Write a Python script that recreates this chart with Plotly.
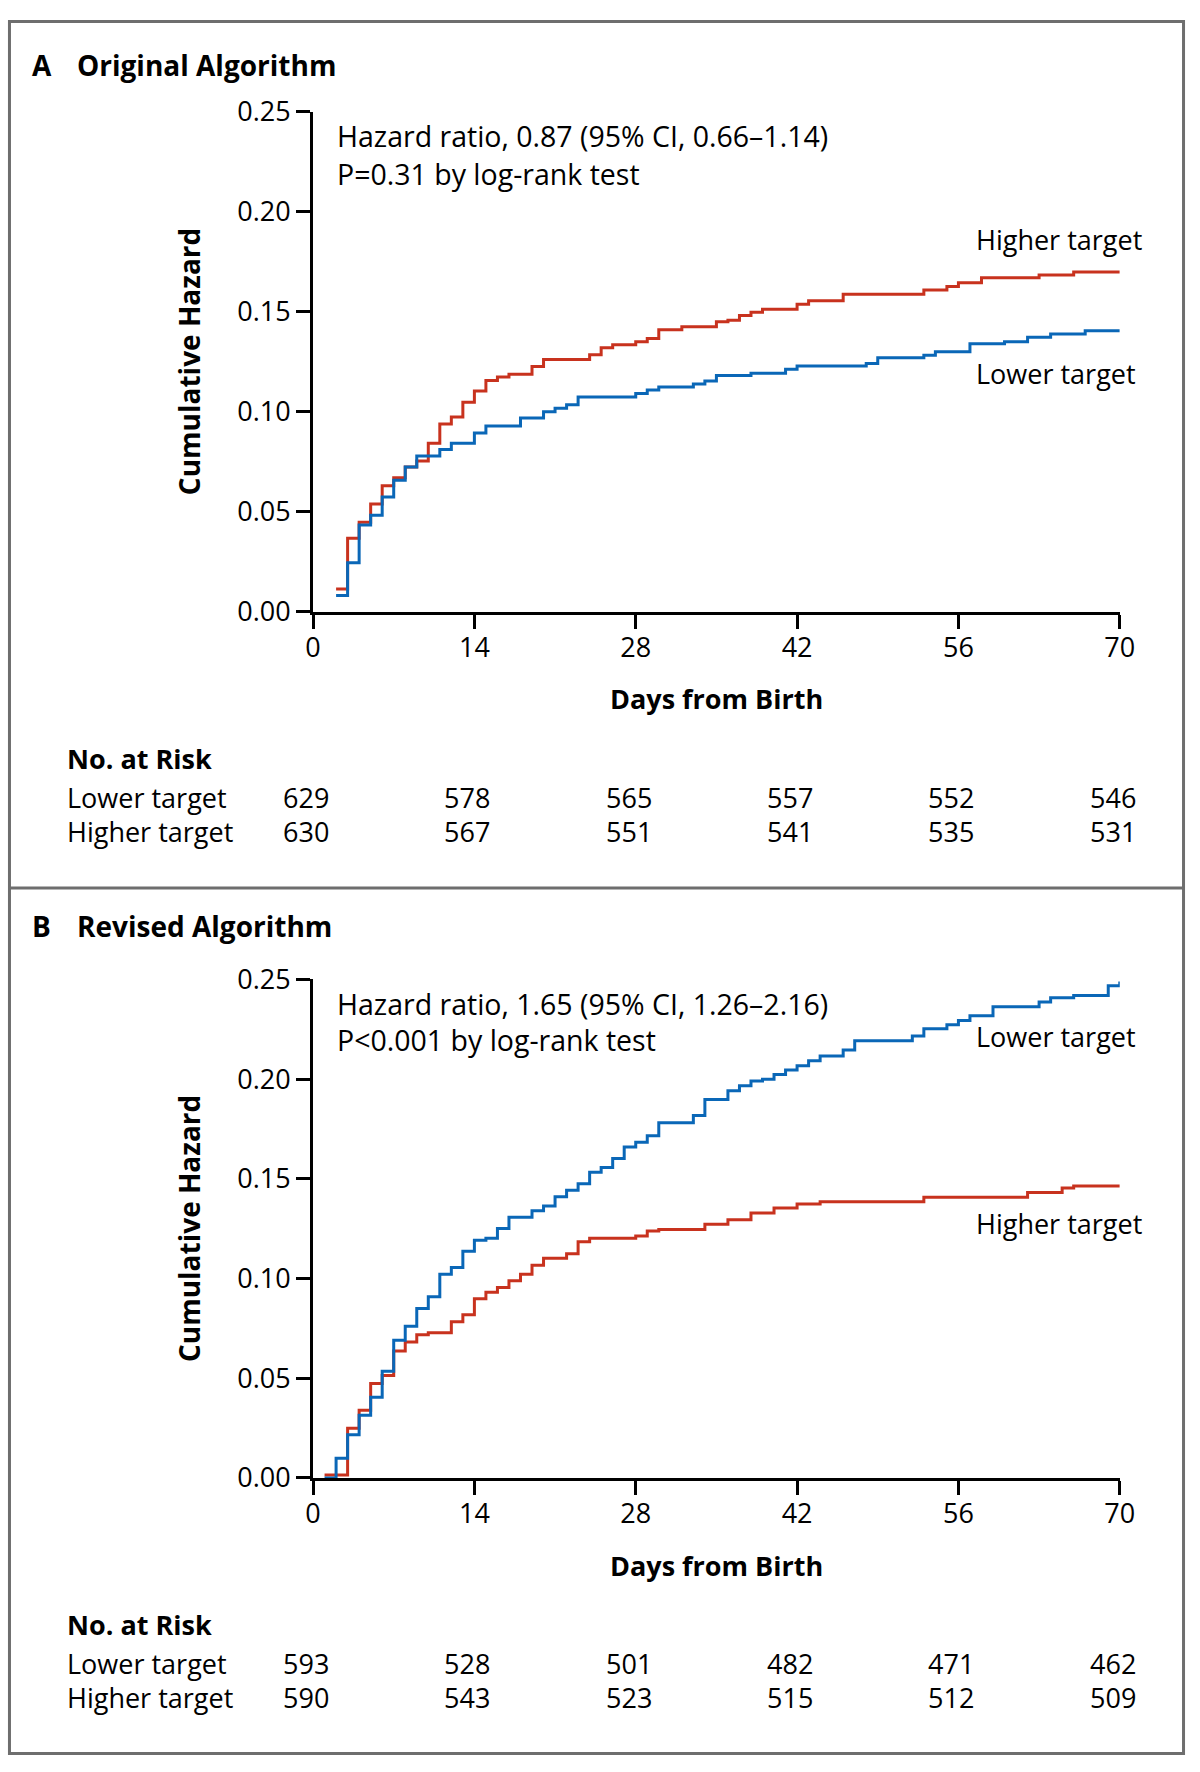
import plotly.graph_objects as go

# ---------------- data ----------------
# Panel A - Original Algorithm (step functions: day of step, cumulative hazard after step)
a_higher_days = [2, 3, 4, 5, 6, 7, 8, 9, 10, 11, 12, 13, 14, 15, 16, 17, 19, 20, 24, 25, 26, 28, 29, 30,
                 32, 35, 36, 37, 38, 39, 42, 43, 46, 53, 55, 56, 58, 63, 66, 70]
a_higher_vals = [0.0114, 0.0368, 0.0447, 0.0539, 0.0630, 0.0670, 0.0723, 0.0753, 0.0842, 0.0939, 0.0974,
                 0.1047, 0.1103, 0.1156, 0.1173, 0.1187, 0.1226, 0.1261, 0.1284, 0.1319, 0.1335, 0.1350,
                 0.1366, 0.1410, 0.1424, 0.1449, 0.1457, 0.1481, 0.1497, 0.1512, 0.1537, 0.1554, 0.1587,
                 0.1608, 0.1626, 0.1644, 0.1669, 0.1683, 0.1698, 0.1698]
a_lower_days = [2, 3, 4, 5, 6, 7, 8, 9, 11, 12, 14, 15, 18, 20, 21, 22, 23, 28, 29, 30, 33, 34, 35, 38,
                41, 42, 48, 49, 53, 54, 57, 60, 62, 64, 67, 70]
a_lower_vals = [0.0081, 0.0245, 0.0434, 0.0483, 0.0574, 0.0657, 0.0723, 0.0779, 0.0811, 0.0842, 0.0893,
                0.0928, 0.0968, 0.1000, 0.1017, 0.1035, 0.1073, 0.1091, 0.1109, 0.1123, 0.1138, 0.1154,
                0.1181, 0.1192, 0.1212, 0.1228, 0.1241, 0.1269, 0.1282, 0.1300, 0.1339, 0.1349, 0.1372,
                0.1388, 0.1405, 0.1405]

# Panel B - Revised Algorithm
b_higher_days = [1, 3, 4, 5, 6, 7, 8, 9, 10, 12, 13, 14, 15, 16, 17, 18, 19, 20, 22, 23, 24, 28, 29, 30,
                 34, 36, 38, 40, 42, 44, 53, 62, 65, 66, 70]
b_higher_vals = [0.0015, 0.0249, 0.0339, 0.0474, 0.0514, 0.0636, 0.0682, 0.0718, 0.0728, 0.0783, 0.0818,
                 0.0898, 0.0931, 0.0955, 0.0988, 0.1021, 0.1066, 0.1102, 0.1124, 0.1184, 0.1202, 0.1213,
                 0.1238, 0.1246, 0.1272, 0.1295, 0.1328, 0.1353, 0.1374, 0.1385, 0.1407, 0.1431, 0.1454,
                 0.1464, 0.1464]
b_lower_days = [1, 2, 3, 4, 5, 6, 7, 8, 9, 10, 11, 12, 13, 14, 15, 16, 17, 19, 20, 21, 22, 23, 24, 25, 26,
                27, 28, 29, 30, 33, 34, 36, 37, 38, 39, 40, 41, 42, 43, 44, 46, 47, 52, 53, 55, 56, 57, 59,
                63, 64, 66, 69, 70]
b_lower_vals = [0.0000, 0.0098, 0.0216, 0.0314, 0.0404, 0.0535, 0.0690, 0.0761, 0.0850, 0.0908, 0.1021,
                0.1055, 0.1137, 0.1192, 0.1202, 0.1250, 0.1307, 0.1340, 0.1364, 0.1410, 0.1443, 0.1475,
                0.1533, 0.1557, 0.1601, 0.1659, 0.1683, 0.1716, 0.1781, 0.1817, 0.1897, 0.1941, 0.1966,
                0.1990, 0.1999, 0.2023, 0.2046, 0.2067, 0.2092, 0.2116, 0.2146, 0.2192, 0.2216, 0.2252,
                0.2272, 0.2293, 0.2318, 0.2363, 0.2386, 0.2408, 0.2419, 0.2468, 0.2489]

x_ticks = [0, 14, 28, 42, 56, 70]
y_ticks = [0.00, 0.05, 0.10, 0.15, 0.20, 0.25]

a_risk_lower = [629, 578, 565, 557, 552, 546]
a_risk_higher = [630, 567, 551, 541, 535, 531]
b_risk_lower = [593, 528, 501, 482, 471, 462]
b_risk_higher = [590, 543, 523, 515, 512, 509]

panel_titles = ["Original Algorithm", "Revised Algorithm"]
panel_letters = ["A", "B"]
hr_texts = [["Hazard ratio, 0.87 (95% CI, 0.66\u20131.14)", "P=0.31 by log-rank test"],
            ["Hazard ratio, 1.65 (95% CI, 1.26\u20132.16)", "P<0.001 by log-rank test"]]

# ---------------- styling ----------------
W, H = 1200, 1772
RED = "#c8321e"
BLUE = "#0a67b7"
FONT = "Open Sans"
FS = 27


def px(x):
    return x / W


def py(y):
    return 1 - y / H


X0, X1 = 311, 1133.5
panels = [
    dict(top=93.5, bottom=604.4, title_y=45.5, hr_y=[118.5, 157],
         upper_label=("Higher target", 224), lower_label=("Lower target", 361)),
    dict(top=979.8, bottom=1489.0, title_y=925.0, hr_y=[1005, 1042],
         upper_label=("Lower target", 1038), lower_label=("Higher target", 1229)),
]

fig = go.Figure()

series = [
    (a_higher_days, a_higher_vals, a_lower_days, a_lower_vals, "x", "y"),
    (b_higher_days, b_higher_vals, b_lower_days, b_lower_vals, "x2", "y2"),
]
for hd, hv, ld, lv, xa, ya in series:
    fig.add_trace(go.Scatter(x=hd, y=hv, mode="lines", line=dict(color=RED, width=3, shape="hv"),
                             xaxis=xa, yaxis=ya, showlegend=False, hoverinfo="skip"))
    fig.add_trace(go.Scatter(x=ld, y=lv, mode="lines", line=dict(color=BLUE, width=3, shape="hv"),
                             xaxis=xa, yaxis=ya, showlegend=False, hoverinfo="skip"))

axis_common = dict(showline=True, linecolor="black", linewidth=3, ticks="outside", ticklen=14,
                   tickwidth=3, tickcolor="black", showgrid=False, zeroline=False,
                   tickfont=dict(family=FONT, size=FS, color="black"), fixedrange=True)

layout_axes = {}
for i, p in enumerate(panels):
    sfx = "" if i == 0 else str(i + 1)
    layout_axes["xaxis" + sfx] = dict(axis_common, domain=[px(X0), px(X1)], range=[0, 70],
                                      tickvals=x_ticks, anchor="y" + sfx, ticklabelstandoff=-4)
    layout_axes["yaxis" + sfx] = dict(axis_common, domain=[py(p["bottom"]), py(p["top"])],
                                      range=[0, 0.25], tickvals=y_ticks, tickformat=".2f",
                                      anchor="x" + sfx)

annotations = []


def add_text(text, x, y, xanchor="left", bold=False, size=FS, angle=0, xref="paper", xshift=0):
    annotations.append(dict(text=("<b>%s</b>" % text) if bold else text, x=x, y=y, xref=xref, yref="paper",
                            xanchor=xanchor, yanchor="middle", showarrow=False, textangle=angle,
                            xshift=xshift,
                            font=dict(family=FONT, size=size, color="black")))


risks = [(a_risk_lower, a_risk_higher), (b_risk_lower, b_risk_higher)]
for i, p in enumerate(panels):
    sfx = "" if i == 0 else str(i + 1)
    add_text(panel_letters[i], px(22), py(p["title_y"]), bold=True, size=28)
    add_text(panel_titles[i], px(68), py(p["title_y"]), bold=True, size=28)
    add_text(hr_texts[i][0], px(333), py(p["hr_y"][0]), size=28.5)
    add_text(hr_texts[i][1], px(333), py(p["hr_y"][1]), size=28.5)
    add_text(p["upper_label"][0], px(985), py(p["upper_label"][1]))
    add_text(p["lower_label"][0], px(985), py(p["lower_label"][1]))
    add_text("Cumulative Hazard", px(184), py((p["top"] + p["bottom"]) / 2), xanchor="center",
             bold=True, angle=-90, size=28)
    add_text("Days from Birth", px((X0 + X1) / 2), py(p["bottom"] + 89), xanchor="center", bold=True)
    base = p["bottom"]
    add_text("No. at Risk", px(58), py(base + 150), bold=True)
    add_text("Lower target", px(58), py(base + 189.5))
    add_text("Higher target", px(58), py(base + 224.5))
    low, high = risks[i]
    for d, lv, hv in zip(x_ticks, low, high):
        add_text(str(lv), d, py(base + 189.5), xanchor="center", xref="x" + sfx, xshift=-7)
        add_text(str(hv), d, py(base + 224.5), xanchor="center", xref="x" + sfx, xshift=-7)

GRAY = "#6e6e6e"
shapes = [
    dict(type="rect", xref="paper", yref="paper", x0=px(1.5), x1=px(W - 1.5), y0=py(H - 1.5), y1=py(1.5),
         line=dict(color=GRAY, width=3), fillcolor="rgba(0,0,0,0)"),
    dict(type="line", xref="paper", yref="paper", x0=0, x1=1, y0=py(886.5), y1=py(886.5),
         line=dict(color=GRAY, width=3)),
]

fig.update_layout(width=W, height=H, margin=dict(l=0, r=0, t=0, b=0), paper_bgcolor="white",
                  plot_bgcolor="white", showlegend=False, annotations=annotations, shapes=shapes,
                  font=dict(family=FONT, size=FS, color="black"), **layout_axes)

post = (
    "document.documentElement.style.margin='0';document.documentElement.style.padding='0';"
    "document.body.style.margin='0';document.body.style.padding='0';"
)
fig.write_html("out.html", config={"displayModeBar": False}, post_script=post)
